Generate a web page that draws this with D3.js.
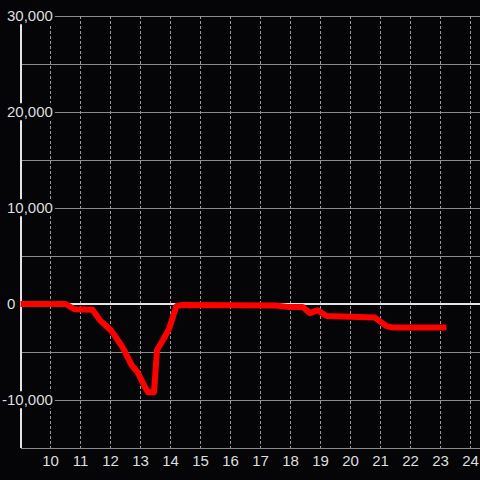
<!DOCTYPE html>
<html>
<head>
<meta charset="utf-8">
<style>
  html, body {
    margin: 0;
    padding: 0;
    background: #050508;
  }
  body {
    font-family: "Liberation Sans", Arial, sans-serif;
  }
  .grid_h line {
    stroke: #8a8c8a;
    stroke-width: 1;
    shape-rendering: crispEdges;
  }
  .grid_v line {
    stroke: #9a9a9a;
    stroke-width: 1;
    stroke-dasharray: 3,2;
    shape-rendering: crispEdges;
  }
  .tick_label {
    fill: #dedede;
    font-size: 15px;
  }
</style>
</head>
<body>
<script src="https://d3js.org/d3.v7.min.js"></script>
<script>
// hour of day vs value
var hours  = [9, 10.5, 10.8, 11.4, 11.65, 12.0, 12.1, 12.4, 12.7, 12.9, 13.15, 13.25, 13.45, 13.55, 13.75, 13.95, 14.2, 14.4, 17.5, 17.9, 18.4, 18.65, 18.9, 19.2, 20.8, 21.2, 21.4, 23.2];
var values = [0, 0, -550, -600, -1700, -2700, -3100, -4500, -6350, -7100, -8650, -9200, -9200, -4800, -3750, -2600, -200, -100, -150, -300, -300, -950, -650, -1250, -1400, -2300, -2450, -2450];

var yTicks = [30000, 20000, 10000, 0, -10000];
var yGrid = [30000, 25000, 20000, 15000, 10000, 5000, -5000, -10000, -15000];
var xTicks = [10, 11, 12, 13, 14, 15, 16, 17, 18, 19, 20, 21, 22, 23, 24];

var width = 480, height = 480;

var x = d3.scaleLinear()
    .domain([9, 24.3])
    .range([20.5, 479.5]);

var y = d3.scaleLinear()
    .domain([-15000, 30000])
    .range([448, 16]);

var fmt = d3.format(",");

var svg = d3.select("body").append("svg")
    .attr("width", width)
    .attr("height", height)
    .style("display", "block");

svg.append("rect")
    .attr("width", width)
    .attr("height", height)
    .attr("fill", "#050508");

// horizontal grid
svg.append("g")
    .attr("class", "grid_h")
  .selectAll("line")
    .data(yGrid)
    .enter().append("line")
    .attr("x1", x(9))
    .attr("x2", width)
    .attr("y1", function(d) { return Math.round(y(d)) + 0.5; })
    .attr("y2", function(d) { return Math.round(y(d)) + 0.5; });

// vertical dashed grid
svg.append("g")
    .attr("class", "grid_v")
  .selectAll("line")
    .data(xTicks)
    .enter().append("line")
    .attr("x1", function(d) { return x(d); })
    .attr("x2", function(d) { return x(d); })
    .attr("y1", y(30000))
    .attr("y2", y(-15000));

// y axis line
svg.append("line")
    .attr("x1", 21)
    .attr("x2", 21)
    .attr("y1", y(30000))
    .attr("y2", y(-15000))
    .attr("stroke", "#e4e4e4")
    .attr("stroke-width", 2);

// zero line
svg.append("line")
    .attr("x1", x(9))
    .attr("x2", width)
    .attr("y1", y(0))
    .attr("y2", y(0))
    .attr("stroke", "#e4e4e4")
    .attr("stroke-width", 2);

// y labels with a dark box behind them
var yLab = svg.append("g")
  .selectAll("g")
    .data(yTicks)
    .enter().append("g");

yLab.append("rect")
    .attr("fill", "#050508");

yLab.append("text")
    .attr("class", "tick_label")
    .attr("x", function(d) { return d < 0 ? 2 : 7; })
    .attr("y", function(d) { return y(d); })
    .attr("dy", "0.35em")
    .text(function(d) { return fmt(d).replace("−", "-"); });

yLab.each(function() {
  var g = d3.select(this);
  var b = g.select("text").node().getBBox();
  g.select("rect")
    .attr("x", b.x - 2)
    .attr("y", b.y)
    .attr("width", b.width + 4)
    .attr("height", b.height);
});

// x labels
svg.append("g")
  .selectAll("text")
    .data(xTicks)
    .enter().append("text")
    .attr("class", "tick_label")
    .attr("text-anchor", "middle")
    .attr("x", function(d) { return x(d); })
    .attr("y", 466)
    .text(function(d) { return d; });

// the series
var line = d3.line()
    .x(function(d, i) { return x(hours[i]); })
    .y(function(d) { return y(d); });

svg.append("path")
    .datum(values)
    .attr("d", line)
    .attr("fill", "none")
    .attr("stroke", "#ff0000")
    .attr("stroke-width", 6)
    .attr("stroke-linejoin", "round");
</script>
</body>
</html>
